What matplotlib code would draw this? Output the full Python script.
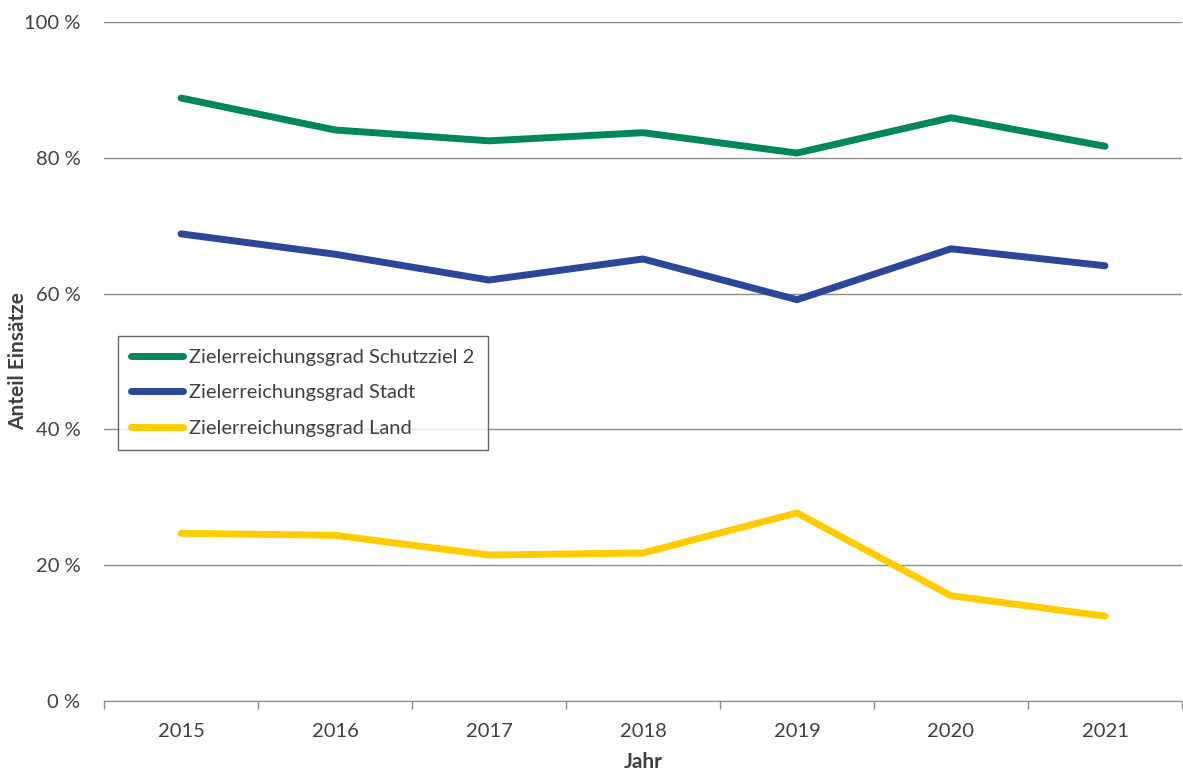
import matplotlib
matplotlib.use("Agg")
import matplotlib.pyplot as plt
import numpy as np

plt.rcParams['font.family'] = ['Lato', 'DejaVu Sans']

years = ["2015", "2016", "2017", "2018", "2019", "2020", "2021"]
schutzziel = [88.8, 84.1, 82.5, 83.7, 80.7, 85.9, 81.7]
stadt = [68.8, 65.8, 62.0, 65.1, 59.1, 66.6, 64.1]
land = [24.7, 24.4, 21.5, 21.8, 27.7, 15.5, 12.5]
labels = ["Zielerreichungsgrad Schutzziel 2", "Zielerreichungsgrad Stadt", "Zielerreichungsgrad Land"]
colors = ["#00875A", "#2E4698", "#FFCC00"]
yticks = [0, 20, 40, 60, 80, 100]

W, H = 1183, 771
fig = plt.figure(figsize=(W/100, H/100), dpi=100)
ax = fig.add_axes([104/W, 1-701/H, (1182-104)/W, (701-22)/H])

x = np.arange(len(years))
for vals, lab, c in zip([schutzziel, stadt, land], labels, colors):
    ax.plot(x, vals, color=c, lw=5, label=lab, solid_capstyle='round', solid_joinstyle='round', zorder=3)

ax.set_xlim(-0.5, len(years)-0.5)
ax.set_ylim(0, 100)
ax.set_yticks(yticks)
ax.set_yticklabels([f"{v} %" for v in yticks], fontsize=14.5, color="#404040")
ax.set_xticks(x)
ax.set_xticklabels(years, fontsize=14.5, color="#404040")
ax.set_xticks(np.arange(-0.5, len(years)), minor=True)
ax.tick_params(axis='x', which='major', length=0, pad=16)
ax.tick_params(axis='x', which='minor', length=6, color="#8c8c8c", width=1)
ax.tick_params(axis='y', length=0, pad=17)
ax.grid(axis='y', color="#8c8c8c", lw=1, zorder=0)
for s in ['top', 'right', 'left']:
    ax.spines[s].set_visible(False)
ax.spines['bottom'].set_color("#8c8c8c")
ax.set_xlabel("Jahr", fontsize=15, fontweight='bold', color="#404040")
ax.set_ylabel("Anteil Einsätze", fontsize=15, fontweight='bold', color="#404040")
ax.xaxis.set_label_coords(0.5, (701-762)/(701-22), transform=ax.transAxes)
ax.xaxis.label.set_va('center')
ax.yaxis.set_label_coords((18-104)/(1182-104), 0.5, transform=ax.transAxes)
ax.yaxis.label.set_va('center')

leg = ax.legend(loc='upper left', bbox_to_anchor=((118-104)/(1182-104), (701-336)/(701-22)),
                borderaxespad=0, fontsize=14.5, frameon=True, fancybox=False, edgecolor="#404040",
                handlelength=2.6, handletextpad=0.3, borderpad=0.65, labelspacing=0.9)
leg.get_frame().set_linewidth(1)
for t in leg.get_texts():
    t.set_color("#404040")

fig.savefig("out.png", dpi=100)
